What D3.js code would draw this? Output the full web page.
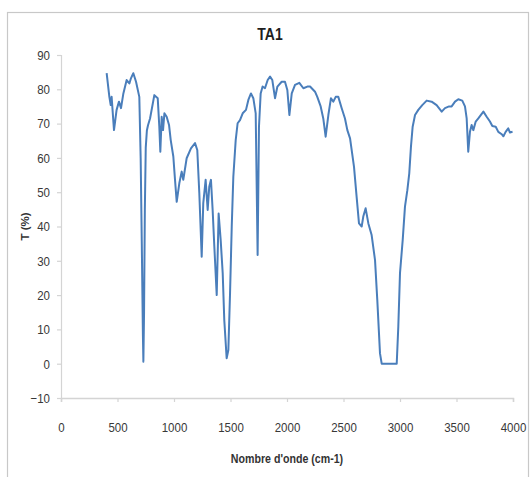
<!DOCTYPE html>
<html>
<head>
<meta charset="utf-8">
<script src="https://cdn.jsdelivr.net/npm/d3@7"></script>
<style>
  html, body { margin: 0; padding: 0; background: #fff; }
  svg { display: block; }
  text { font-family: "Liberation Sans", Arial, sans-serif; }
</style>
</head>
<body>
<svg id="chart" width="530" height="477"></svg>
<script>
// FTIR spectrum of sample TA1: wavenumber (cm-1) vs transmittance (%)
const wavenumber = [404, 428, 440, 448, 469, 492, 513, 531, 552, 581, 605, 619, 640, 664, 693,
  705, 715, 725, 729, 735, 742, 750, 760, 770, 788, 826, 856, 870, 879, 891, 903, 915, 935, 956,
  971, 994, 1009, 1024, 1047, 1068, 1082, 1112, 1150, 1186, 1206, 1224, 1245, 1259, 1280, 1298,
  1312, 1327, 1342, 1357, 1378, 1395, 1413, 1431, 1445, 1466, 1481, 1496, 1511, 1525, 1546, 1563,
  1584, 1608, 1637, 1658, 1681, 1702, 1723, 1740, 1752, 1767, 1784, 1805, 1829, 1850, 1870, 1894,
  1915, 1953, 1982, 2003, 2021, 2042, 2071, 2109, 2145, 2180, 2204, 2248, 2268, 2298, 2321, 2342,
  2366, 2389, 2410, 2431, 2454, 2484, 2513, 2534, 2558, 2593, 2616, 2637, 2661, 2675, 2696, 2720,
  2749, 2779, 2799, 2823, 2838, 2971, 2985, 3000, 3024, 3044, 3065, 3082, 3097, 3112, 3133, 3162,
  3197, 3236, 3280, 3324, 3369, 3398, 3434, 3457, 3487, 3516, 3551, 3575, 3590, 3604, 3619, 3634,
  3649, 3670, 3693, 3738, 3767, 3796, 3817, 3847, 3870, 3900, 3915, 3935, 3958, 3973, 3996];
const transmittance = [84.7, 77.8, 75.4, 77.8, 68.1, 74.0, 76.4, 74.5, 78.8, 82.7, 81.7, 83.2, 84.7, 82.2, 77.8,
  60.0, 35.0, 8.0, 0.6, 15.0, 45.0, 63.0, 68.0, 69.5, 71.5, 78.3, 77.4, 69.1, 61.8, 72.0, 68.1, 73.0, 72.0, 69.6,
  65.2, 60.4, 53.6, 47.2, 52.6, 56.0, 53.6, 59.9, 62.8, 64.3, 62.3, 49.7, 31.2, 46.8, 53.6, 44.8,
  51.6, 53.6, 44.8, 34.1, 20.0, 43.8, 36.1, 26.4, 12.7, 1.6, 4.0, 20.6, 40.0, 54.5, 65.2, 70.1,
  71.0, 73.0, 74.0, 76.9, 78.8, 77.4, 73.0, 31.7, 69.1, 78.8, 80.8, 80.3, 82.7, 83.7, 82.7, 77.4,
  80.8, 82.2, 82.2, 79.8, 72.5, 78.8, 81.3, 81.9, 80.3, 80.8, 80.8, 79.3, 77.8, 75.0, 71.5, 66.2,
  72.5, 77.4, 76.4, 77.8, 77.8, 74.5, 71.5, 68.1, 65.7, 57.4, 48.7, 40.9, 40.0, 42.9, 45.3, 40.9,
  37.5, 30.2, 18.6, 3.0, 0.0, 0.0, 10.8, 26.4, 36.1, 45.8, 50.6, 55.5, 63.3, 69.1, 72.5, 74.0,
  75.4, 76.7, 76.4, 75.4, 73.5, 74.5, 75.0, 75.0, 76.4, 77.1, 76.7, 75.0, 71.5, 61.8, 67.6, 69.6,
  68.1, 70.6, 71.5, 73.5, 72.0, 70.6, 69.3, 69.1, 67.6, 66.9, 66.3, 67.6, 68.6, 67.4, 67.6];

const xTicks = [0, 500, 1000, 1500, 2000, 2500, 3000, 3500, 4000];
const yTicks = [-10, 0, 10, 20, 30, 40, 50, 60, 70, 80, 90];

const chartTitle = "TA1";
const xTitle = "Nombre d'onde (cm-1)";
const yTitle = "T (%)";

const svg = d3.select("#chart");

// narrow the glyphs of a text selection horizontally (condensed look)
function condense(sel, factor) {
  sel.each(function () {
    const w = this.getComputedTextLength();
    d3.select(this)
      .attr("textLength", (w * factor).toFixed(2))
      .attr("lengthAdjust", "spacingAndGlyphs");
  });
}

// chart area frame
svg.append("rect")
  .attr("x", 7.5).attr("y", 12.5)
  .attr("width", 521).attr("height", 470)
  .attr("fill", "#fff")
  .attr("stroke", "#c8c8c8")
  .attr("stroke-width", 1.2);

const plot = { left: 61, right: 513, top: 55, bottom: 398 };

const x = d3.scaleLinear().domain([0, 4000]).range([plot.left, plot.right]);
const y = d3.scaleLinear().domain([-10, 90]).range([plot.bottom, plot.top]);

const axisColor = "#d4d4d4";
const labelColor = "#383838";

// y axis
const yAxis = svg.append("g")
  .attr("transform", `translate(${plot.left},0)`)
  .call(d3.axisLeft(y).tickValues(yTicks).tickSize(4).tickPadding(7).tickFormat(d3.format("d")));
yAxis.select(".domain").attr("stroke", axisColor).attr("stroke-width", 1.2);
yAxis.selectAll(".tick line").attr("stroke", axisColor).attr("stroke-width", 1.2);
yAxis.selectAll(".tick text")
  .attr("fill", labelColor)
  .style("font-size", "13.5px")
  .call(condense, 0.85);

// x axis
const xAxis = svg.append("g")
  .attr("transform", `translate(0,${plot.bottom})`)
  .call(d3.axisBottom(x).tickValues(xTicks).tickSize(4).tickPadding(20).tickFormat(d3.format("d")));
xAxis.select(".domain").attr("stroke", axisColor).attr("stroke-width", 1.5);
xAxis.selectAll(".tick line").attr("stroke", axisColor).attr("stroke-width", 1.2);
xAxis.selectAll(".tick text")
  .attr("fill", labelColor)
  .style("font-size", "13.5px")
  .call(condense, 0.85);

// spectrum line
const data = wavenumber.map((w, i) => ({ w, t: transmittance[i] }));
const line = d3.line()
  .x(d => x(d.w))
  .y(d => y(d.t));

svg.append("path")
  .datum(data)
  .attr("fill", "none")
  .attr("stroke", "#4a7ebb")
  .attr("stroke-width", 2)
  .attr("stroke-linejoin", "round")
  .attr("d", line);

// titles
svg.append("text")
  .attr("x", 270).attr("y", 40)
  .attr("text-anchor", "middle")
  .attr("fill", "#1e1e1e")
  .style("font-size", "17px")
  .style("font-weight", "bold")
  .text(chartTitle)
  .call(condense, 0.82);

svg.append("text")
  .attr("x", (plot.left + plot.right) / 2).attr("y", 463)
  .attr("text-anchor", "middle")
  .attr("fill", "#333")
  .style("font-size", "12.5px")
  .style("font-weight", "bold")
  .text(xTitle)
  .call(condense, 0.85);

svg.append("text")
  .attr("transform", `translate(29,${(plot.top + plot.bottom) / 2}) rotate(-90)`)
  .attr("text-anchor", "middle")
  .attr("fill", "#333")
  .style("font-size", "11.5px")
  .style("font-weight", "bold")
  .text(yTitle);
</script>
</body>
</html>
